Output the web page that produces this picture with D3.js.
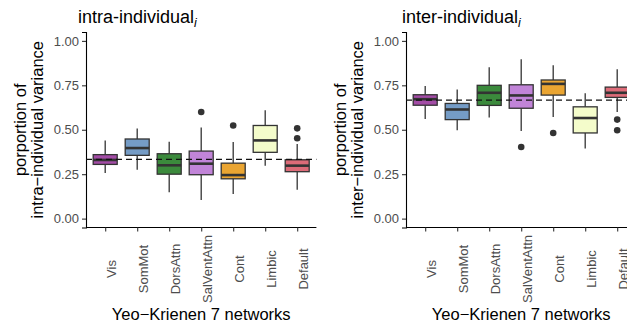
<!DOCTYPE html>
<html>
<head>
<meta charset="utf-8">
<script src="https://cdn.jsdelivr.net/npm/d3@7"></script>
<style>
  body { margin: 0; background: #fff; }
  svg { display: block; font-family: "Liberation Sans", Arial, Helvetica, sans-serif; }
</style>
</head>
<body>
<svg id="chart" width="627" height="329"></svg>
<script>
// Yeo 7 networks
const networks = ['Vis', 'SomMot', 'DorsAttn', 'SalVentAttn', 'Cont', 'Limbic', 'Default'];
const netColors = ['#A34CA6', '#759CC6', '#3B8A3C', '#C184D8', '#EAA532', '#F4FCCB', '#DD6B78'];
const yTicks = [0, 0.25, 0.5, 0.75, 1];

// intra-individual proportion of variance (box stats)
const intraLow = [0.256, 0.275, 0.149, 0.105, 0.139, 0.298, 0.162];
const intraQ1 = [0.305, 0.356, 0.250, 0.247, 0.224, 0.373, 0.264];
const intraMed = [0.330, 0.397, 0.300, 0.309, 0.245, 0.440, 0.298];
const intraQ3 = [0.360, 0.448, 0.365, 0.380, 0.312, 0.524, 0.331];
const intraHigh = [0.440, 0.507, 0.433, 0.512, 0.431, 0.610, 0.420];
const intraOut = [[], [], [], [0.600], [0.524], [], [0.452, 0.508]];

// inter-individual proportion of variance (box stats)
const interLow = [0.561, 0.497, 0.569, 0.493, 0.572, 0.394, 0.600];
const interQ1 = [0.638, 0.557, 0.637, 0.621, 0.695, 0.482, 0.682];
const interMed = [0.672, 0.614, 0.708, 0.693, 0.758, 0.566, 0.708];
const interQ3 = [0.697, 0.648, 0.750, 0.753, 0.780, 0.629, 0.740];
const interHigh = [0.746, 0.727, 0.851, 0.896, 0.863, 0.705, 0.840];
const interOut = [[], [], [], [0.403], [0.482], [], [0.557, 0.497]];

const svg = d3.select('#chart');

function drawPanel(opt) {
  const x = d3.scalePoint()
      .domain(networks)
      .range([opt.left, opt.left + 230.4])
      .padding(0.6);
  const y = d3.scaleLinear()
      .domain([-0.05, 1.05])
      .range([227.5, 32]);
  const bw = x.step() * 0.75;

  const g = svg.append('g');

  // title with italic subscript
  const t = g.append('text')
      .attr('x', opt.titleX)
      .attr('y', 23)
      .attr('font-size', 18)
      .attr('fill', '#000')
      .text(opt.title);
  t.append('tspan')
      .attr('font-size', 12.5)
      .attr('font-style', 'italic')
      .attr('dy', 4)
      .text('i');

  // y axis
  const yAxis = g.append('g')
      .attr('transform', 'translate(' + opt.left + ',0)')
      .call(d3.axisLeft(y).tickValues(yTicks).tickFormat(d3.format('.2f')).tickSize(4).tickPadding(3));
  yAxis.select('.domain').attr('stroke', '#000').attr('stroke-width', 1.1);
  yAxis.selectAll('.tick line').attr('stroke', '#333').attr('stroke-width', 1.1);
  yAxis.selectAll('text').attr('font-size', 13).attr('fill', '#4D4D4D').attr('font-family', null);

  // x axis
  const xAxis = g.append('g')
      .attr('transform', 'translate(0,227.5)')
      .call(d3.axisBottom(x).tickSize(4).tickSizeOuter(0));
  xAxis.select('.domain').attr('stroke', '#000').attr('stroke-width', 1.1)
      .attr('d', 'M' + opt.left + ',0H' + (opt.left + 230.4));
  xAxis.selectAll('.tick line').attr('stroke', '#333').attr('stroke-width', 1.1);
  xAxis.selectAll('text')
      .attr('font-size', 13).attr('fill', '#4D4D4D').attr('font-family', null)
      .attr('transform', 'rotate(-90)')
      .attr('text-anchor', 'middle')
      .attr('x', -41.5)
      .attr('y', 10.5)
      .attr('dy', null);

  // boxes
  const rows = networks.map((n, i) => ({
    n: n, c: netColors[i],
    lo: opt.low[i], q1: opt.q1[i], med: opt.med[i], q3: opt.q3[i], hi: opt.high[i], out: opt.out[i]
  }));
  const box = g.selectAll('g.box').data(rows).enter().append('g').attr('class', 'box');
  box.append('line')
      .attr('x1', d => x(d.n)).attr('x2', d => x(d.n))
      .attr('y1', d => y(d.hi)).attr('y2', d => y(d.q3))
      .attr('stroke', '#333').attr('stroke-width', 1.3);
  box.append('line')
      .attr('x1', d => x(d.n)).attr('x2', d => x(d.n))
      .attr('y1', d => y(d.q1)).attr('y2', d => y(d.lo))
      .attr('stroke', '#333').attr('stroke-width', 1.3);
  box.append('rect')
      .attr('x', d => x(d.n) - bw / 2)
      .attr('width', bw)
      .attr('y', d => y(d.q3))
      .attr('height', d => y(d.q1) - y(d.q3))
      .attr('fill', d => d.c)
      .attr('stroke', '#333').attr('stroke-width', 1.3);
  box.append('line')
      .attr('x1', d => x(d.n) - bw / 2).attr('x2', d => x(d.n) + bw / 2)
      .attr('y1', d => y(d.med)).attr('y2', d => y(d.med))
      .attr('stroke', '#333').attr('stroke-width', 2.6);
  box.selectAll('circle').data(d => d.out.map(v => ({n: d.n, v: v}))).enter().append('circle')
      .attr('cx', d => x(d.n)).attr('cy', d => y(d.v)).attr('r', 3.3)
      .attr('fill', '#333');

  // chance reference line
  g.append('line')
      .attr('x1', opt.left).attr('x2', opt.left + 230.4)
      .attr('y1', y(opt.ref)).attr('y2', y(opt.ref))
      .attr('stroke', '#111').attr('stroke-width', 1.4)
      .attr('stroke-dasharray', '6,4');

  // y axis title (two lines)
  const yc = (227.5 + 32) / 2;
  g.append('text')
      .attr('transform', 'translate(' + (opt.left - 60) + ',' + yc + ') rotate(-90)')
      .attr('text-anchor', 'middle').attr('font-size', 16.5).attr('fill', '#000')
      .text('porportion of');
  g.append('text')
      .attr('transform', 'translate(' + (opt.left - 43) + ',' + yc + ') rotate(-90)')
      .attr('text-anchor', 'middle').attr('font-size', 16.5).attr('fill', '#000')
      .text(opt.yLabel);

  // x axis title
  g.append('text')
      .attr('x', opt.left + 115.2).attr('y', 320)
      .attr('text-anchor', 'middle').attr('font-size', 16.5).attr('fill', '#000')
      .text('Yeo\u2212Krienen 7 networks');
}

drawPanel({
  left: 86, titleX: 78, title: 'intra-individual',
  yLabel: 'intra\u2212individual variance', ref: 1 / 3,
  low: intraLow, q1: intraQ1, med: intraMed, q3: intraQ3, high: intraHigh, out: intraOut
});
drawPanel({
  left: 406, titleX: 402, title: 'inter-individual',
  yLabel: 'inter\u2212individual variance', ref: 2 / 3,
  low: interLow, q1: interQ1, med: interMed, q3: interQ3, high: interHigh, out: interOut
});
</script>
</body>
</html>
